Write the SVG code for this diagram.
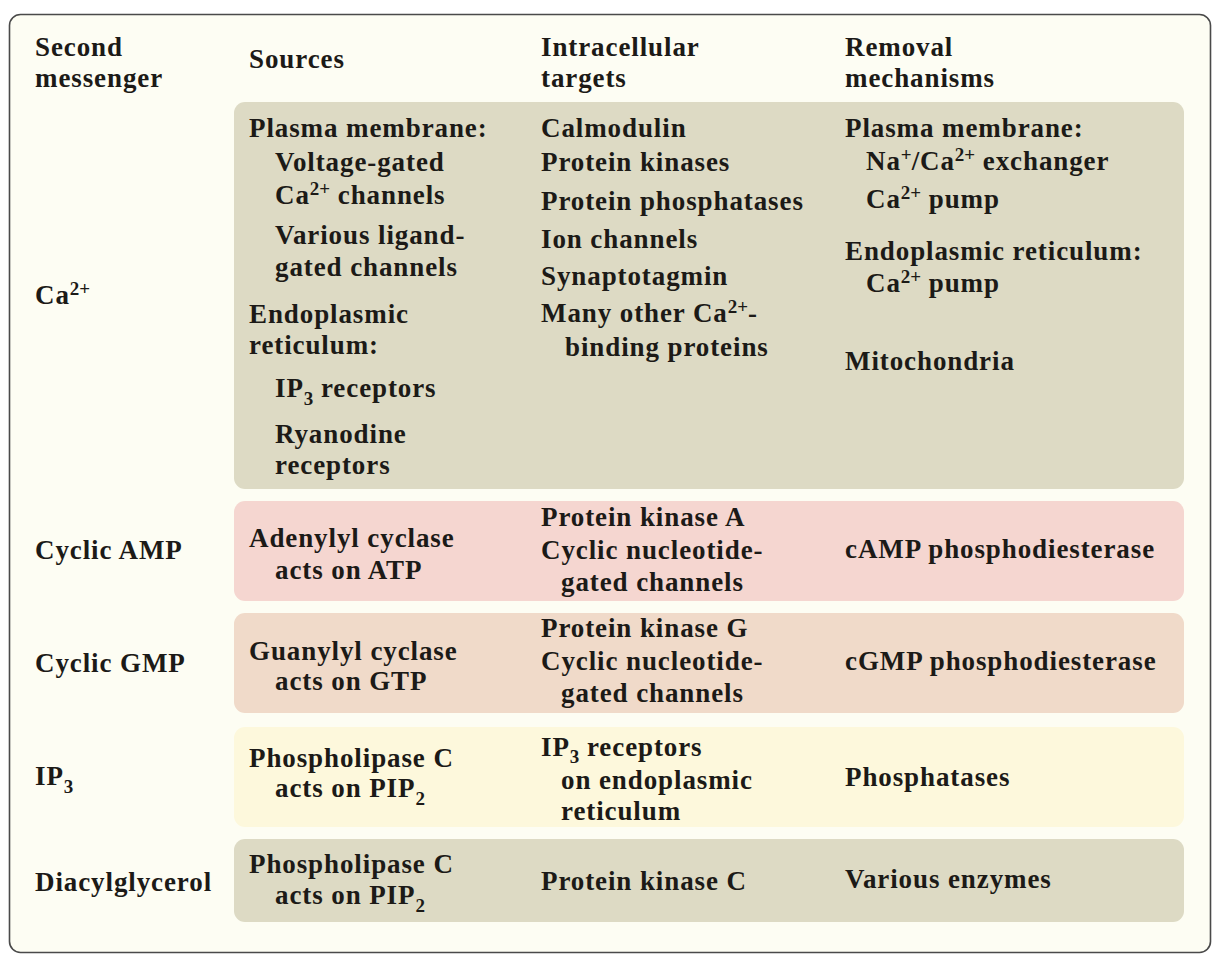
<svg xmlns="http://www.w3.org/2000/svg" width="1219" height="965" viewBox="0 0 1219 965">
<style>
text{font-family:"Liberation Serif","Times New Roman",serif;font-weight:bold;font-size:27px;letter-spacing:0.9px;fill:#1c1a17}
.s{font-size:19px;letter-spacing:0}
.ca{fill:#dddac4}
.camp{fill:#f5d6d0}
.cgmp{fill:#f0dac9}
.ip3{fill:#fdf8dc}
</style>
<rect x="0" y="0" width="1219" height="965" fill="#ffffff"/>
<rect x="9.5" y="14.5" width="1201" height="938" rx="11" fill="#fdfdf3" stroke="#4a4a4a" stroke-width="1.6"/>
<g id="header">
<text x="35" y="56">Second</text>
<text x="35" y="87">messenger</text>
<text x="249" y="68">Sources</text>
<text x="541" y="56">Intracellular</text>
<text x="541" y="87">targets</text>
<text x="845" y="56">Removal</text>
<text x="845" y="87">mechanisms</text>
</g>
<g id="row-ca">
<rect class="ca" x="234" y="102" width="950" height="387" rx="11"/>
<text x="35" y="304">Ca<tspan class="s" dy="-9">2+</tspan></text>
<text x="249" y="137">Plasma membrane:</text>
<text x="275" y="171">Voltage-gated</text>
<text x="275" y="204">Ca<tspan class="s" dy="-9">2+</tspan><tspan dy="9"> channels</tspan></text>
<text x="275" y="244">Various ligand-</text>
<text x="275" y="276">gated channels</text>
<text x="249" y="323">Endoplasmic</text>
<text x="249" y="354">reticulum:</text>
<text x="275" y="397">IP<tspan class="s" dy="8">3</tspan><tspan dy="-8"> receptors</tspan></text>
<text x="275" y="443">Ryanodine</text>
<text x="275" y="474">receptors</text>
<text x="541" y="137">Calmodulin</text>
<text x="541" y="171">Protein kinases</text>
<text x="541" y="210">Protein phosphatases</text>
<text x="541" y="248">Ion channels</text>
<text x="541" y="285">Synaptotagmin</text>
<text x="541" y="322">Many other Ca<tspan class="s" dy="-9">2+</tspan><tspan dy="9">-</tspan></text>
<text x="565" y="356">binding proteins</text>
<text x="845" y="137">Plasma membrane:</text>
<text x="866" y="170">Na<tspan class="s" dy="-9">+</tspan><tspan dy="9">/Ca</tspan><tspan class="s" dy="-9">2+</tspan><tspan dy="9"> exchanger</tspan></text>
<text x="866" y="208">Ca<tspan class="s" dy="-9">2+</tspan><tspan dy="9"> pump</tspan></text>
<text x="845" y="260">Endoplasmic reticulum:</text>
<text x="866" y="292">Ca<tspan class="s" dy="-9">2+</tspan><tspan dy="9"> pump</tspan></text>
<text x="845" y="370">Mitochondria</text>
</g>
<g id="row-camp">
<rect class="camp" x="234" y="501" width="950" height="100" rx="11"/>
<text x="35" y="559">Cyclic AMP</text>
<text x="249" y="547">Adenylyl cyclase</text>
<text x="275" y="579">acts on ATP</text>
<text x="541" y="526">Protein kinase A</text>
<text x="541" y="559">Cyclic nucleotide-</text>
<text x="561" y="591">gated channels</text>
<text x="845" y="558">cAMP phosphodiesterase</text>
</g>
<g id="row-cgmp">
<rect class="cgmp" x="234" y="613" width="950" height="100" rx="11"/>
<text x="35" y="672">Cyclic GMP</text>
<text x="249" y="660">Guanylyl cyclase</text>
<text x="275" y="690">acts on GTP</text>
<text x="541" y="637">Protein kinase G</text>
<text x="541" y="670">Cyclic nucleotide-</text>
<text x="561" y="702">gated channels</text>
<text x="845" y="670">cGMP phosphodiesterase</text>
</g>
<g id="row-ip3">
<rect class="ip3" x="234" y="727" width="950" height="100" rx="11"/>
<text x="35" y="785">IP<tspan class="s" dy="8">3</tspan></text>
<text x="249" y="767">Phospholipase C</text>
<text x="275" y="797">acts on PIP<tspan class="s" dy="8">2</tspan></text>
<text x="541" y="756">IP<tspan class="s" dy="7">3</tspan><tspan dy="-7"> receptors</tspan></text>
<text x="561" y="789">on endoplasmic</text>
<text x="561" y="820">reticulum</text>
<text x="845" y="786">Phosphatases</text>
</g>
<g id="row-dag">
<rect class="ca" x="234" y="839" width="950" height="83" rx="11"/>
<text x="35" y="891">Diacylglycerol</text>
<text x="249" y="873">Phospholipase C</text>
<text x="275" y="904">acts on PIP<tspan class="s" dy="8">2</tspan></text>
<text x="541" y="890">Protein kinase C</text>
<text x="845" y="888">Various enzymes</text>
</g>
<g id="connectors"></g>
</svg>
